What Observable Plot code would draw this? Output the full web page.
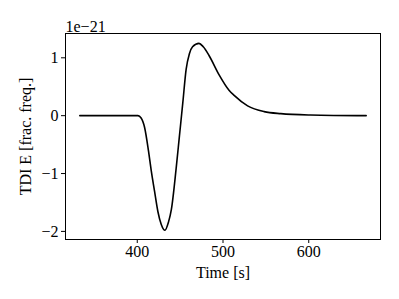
<!DOCTYPE html>
<html>
<head>
<meta charset="utf-8">
<script src="https://cdn.jsdelivr.net/npm/d3@7"></script>
<script src="https://cdn.jsdelivr.net/npm/@observablehq/plot@0.6"></script>
<style>
  html, body { margin: 0; padding: 0; background: #fff; }
  #chart { width: 399px; height: 299px; }
</style>
</head>
<body>
<div id="chart"></div>
<script>
// Time in seconds
const times = [333, 400.8, 404.5, 408.5, 413.1, 416.3, 420.1, 424.1, 428, 432.3, 436.4, 439.8, 445.3, 449.2, 453.1, 457, 460.8, 464.5, 472, 477, 483.7, 495.3, 507, 513, 528.7, 548, 567.4, 602, 667];
// TDI E in units of 1e-21
const tdiE = [0, 0, -0.04, -0.20, -0.61, -0.95, -1.30, -1.66, -1.88, -1.98, -1.84, -1.62, -0.92, -0.35, 0.22, 0.80, 1.07, 1.19, 1.25, 1.19, 1.04, 0.71, 0.44, 0.35, 0.17, 0.07, 0.035, 0.012, 0];
const xTicks = [400, 500, 600];
const yTicks = [-2, -1, 0, 1];
const offsetLabel = "1e\u221221";
const xLabel = "Time [s]";
const yLabel = "TDI E [frac. freq.]";

const data = times.map((t, i) => ({t, v: tdiE[i]}));
const font = "Liberation Serif, Times New Roman, serif";
const fmt = d3.format("d");

const chart = Plot.plot({
  width: 399,
  height: 299,
  marginLeft: 65,
  marginRight: 19,
  marginTop: 33,
  marginBottom: 60,
  style: {fontFamily: font, fontSize: "16px", color: "#000", background: "#fff"},
  x: {domain: [316.3, 683.7]},
  y: {domain: [-2.14, 1.42]},
  marks: [
    Plot.axisX({ticks: xTicks, tickSize: 4, tickPadding: 2, fontSize: 16, label: xLabel, labelAnchor: "center", labelArrow: "none", labelOffset: 38}),
    Plot.axisY({ticks: yTicks, tickFormat: fmt, tickSize: 4, tickPadding: 3, fontSize: 16, label: yLabel, labelAnchor: "center", labelArrow: "none", labelOffset: 46}),
    Plot.frame({stroke: "#000", strokeWidth: 1}),
    Plot.line(data, {x: "t", y: "v", curve: "monotone-x", stroke: "#000", strokeWidth: 1.6}),
    Plot.text([offsetLabel], {frameAnchor: "top-left", text: d => d, textAnchor: "start", lineAnchor: "bottom", dy: -2, fontSize: 16})
  ]
});
document.getElementById("chart").append(chart);
</script>
</body>
</html>
